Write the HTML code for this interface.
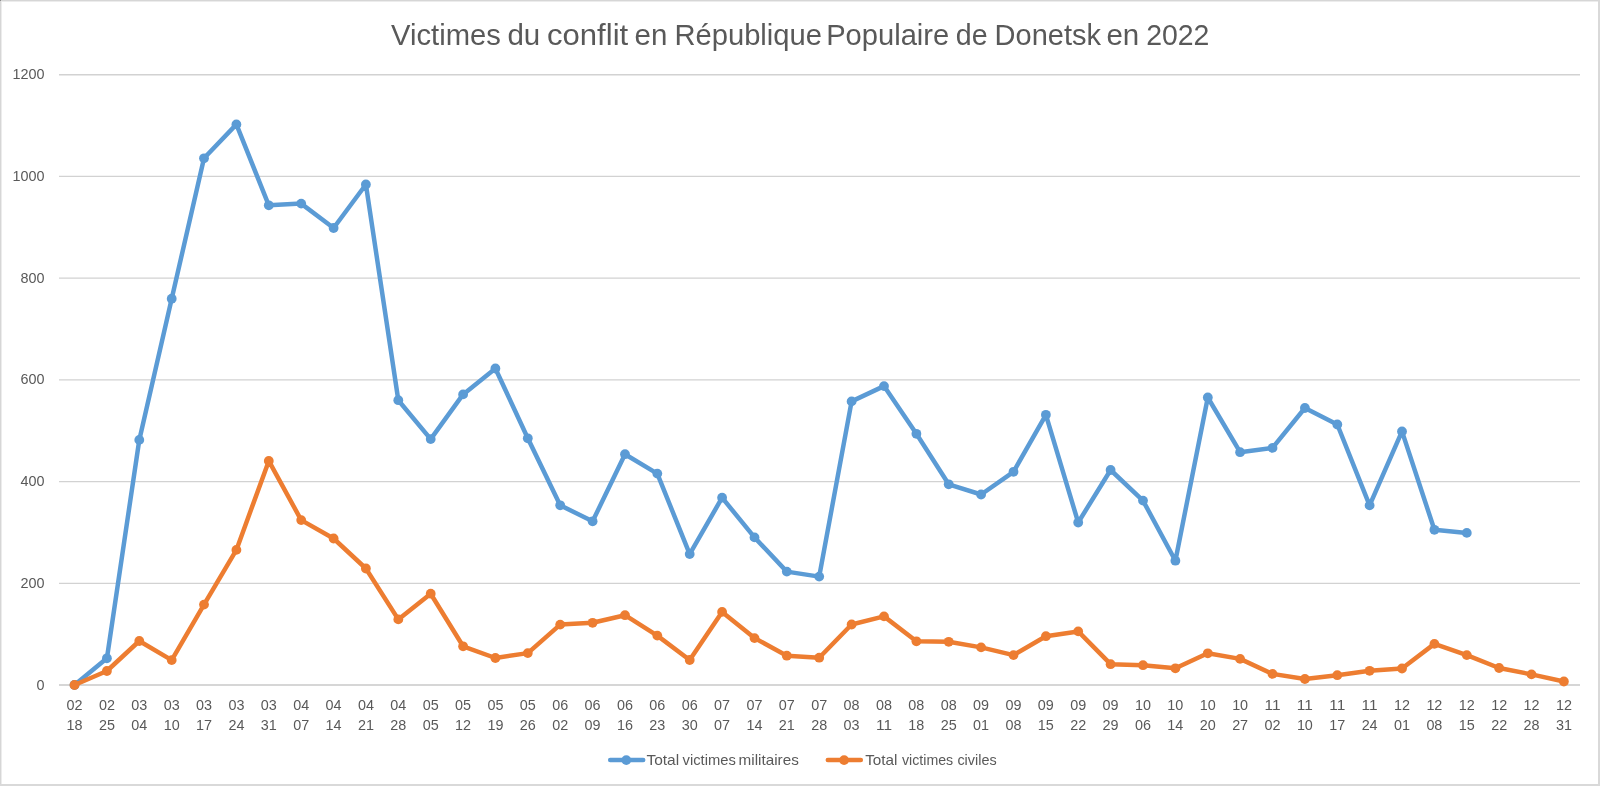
<!DOCTYPE html>
<html><head><meta charset="utf-8"><title>Chart</title>
<style>
html,body{margin:0;padding:0;background:#fff;}
body{width:1600px;height:786px;overflow:hidden;position:relative;font-family:"Liberation Sans",sans-serif;}
.b{position:absolute;}
svg{position:absolute;left:0;top:0;will-change:transform;}
text{font-family:"Liberation Sans",sans-serif;fill:#595959;}
.ax{font-size:15px;}
.title{font-size:28.8px;}
</style></head><body>
<svg width="1600" height="786" viewBox="0 0 1600 786">
<line x1="59.0" y1="74.70" x2="1580.0" y2="74.70" stroke="#d2d2d2" stroke-width="1.35"/>
<line x1="59.0" y1="176.42" x2="1580.0" y2="176.42" stroke="#d2d2d2" stroke-width="1.35"/>
<line x1="59.0" y1="278.14" x2="1580.0" y2="278.14" stroke="#d2d2d2" stroke-width="1.35"/>
<line x1="59.0" y1="379.86" x2="1580.0" y2="379.86" stroke="#d2d2d2" stroke-width="1.35"/>
<line x1="59.0" y1="481.58" x2="1580.0" y2="481.58" stroke="#d2d2d2" stroke-width="1.35"/>
<line x1="59.0" y1="583.30" x2="1580.0" y2="583.30" stroke="#d2d2d2" stroke-width="1.35"/>
<rect x="59.0" y="684" width="1521.0" height="2" fill="#d6d6d6"/>
<polyline points="74.5,685.0 106.9,658.3 139.3,439.9 171.7,298.7 204.0,158.3 236.4,124.4 268.8,205.3 301.2,203.6 333.6,228.0 365.9,184.5 398.3,400.2 430.7,439.1 463.1,394.4 495.4,368.5 527.8,438.3 560.2,505.3 592.6,521.3 625.0,454.2 657.3,473.6 689.7,554.1 722.1,497.7 754.5,537.4 786.8,571.6 819.2,576.6 851.6,401.4 884.0,386.1 916.4,433.8 948.7,484.3 981.1,494.5 1013.5,471.8 1045.9,414.8 1078.2,522.5 1110.6,470.0 1143.0,500.6 1175.4,560.7 1207.8,397.5 1240.1,452.2 1272.5,447.9 1304.9,408.0 1337.3,424.5 1369.6,505.4 1402.0,431.4 1434.4,529.8 1466.8,532.9" fill="none" stroke="#5b9bd5" stroke-width="4.5" stroke-linejoin="round" stroke-linecap="round"/>
<circle cx="74.5" cy="685.0" r="4.9" fill="#5b9bd5"/><circle cx="106.9" cy="658.3" r="4.9" fill="#5b9bd5"/><circle cx="139.3" cy="439.9" r="4.9" fill="#5b9bd5"/><circle cx="171.7" cy="298.7" r="4.9" fill="#5b9bd5"/><circle cx="204.0" cy="158.3" r="4.9" fill="#5b9bd5"/><circle cx="236.4" cy="124.4" r="4.9" fill="#5b9bd5"/><circle cx="268.8" cy="205.3" r="4.9" fill="#5b9bd5"/><circle cx="301.2" cy="203.6" r="4.9" fill="#5b9bd5"/><circle cx="333.6" cy="228.0" r="4.9" fill="#5b9bd5"/><circle cx="365.9" cy="184.5" r="4.9" fill="#5b9bd5"/><circle cx="398.3" cy="400.2" r="4.9" fill="#5b9bd5"/><circle cx="430.7" cy="439.1" r="4.9" fill="#5b9bd5"/><circle cx="463.1" cy="394.4" r="4.9" fill="#5b9bd5"/><circle cx="495.4" cy="368.5" r="4.9" fill="#5b9bd5"/><circle cx="527.8" cy="438.3" r="4.9" fill="#5b9bd5"/><circle cx="560.2" cy="505.3" r="4.9" fill="#5b9bd5"/><circle cx="592.6" cy="521.3" r="4.9" fill="#5b9bd5"/><circle cx="625.0" cy="454.2" r="4.9" fill="#5b9bd5"/><circle cx="657.3" cy="473.6" r="4.9" fill="#5b9bd5"/><circle cx="689.7" cy="554.1" r="4.9" fill="#5b9bd5"/><circle cx="722.1" cy="497.7" r="4.9" fill="#5b9bd5"/><circle cx="754.5" cy="537.4" r="4.9" fill="#5b9bd5"/><circle cx="786.8" cy="571.6" r="4.9" fill="#5b9bd5"/><circle cx="819.2" cy="576.6" r="4.9" fill="#5b9bd5"/><circle cx="851.6" cy="401.4" r="4.9" fill="#5b9bd5"/><circle cx="884.0" cy="386.1" r="4.9" fill="#5b9bd5"/><circle cx="916.4" cy="433.8" r="4.9" fill="#5b9bd5"/><circle cx="948.7" cy="484.3" r="4.9" fill="#5b9bd5"/><circle cx="981.1" cy="494.5" r="4.9" fill="#5b9bd5"/><circle cx="1013.5" cy="471.8" r="4.9" fill="#5b9bd5"/><circle cx="1045.9" cy="414.8" r="4.9" fill="#5b9bd5"/><circle cx="1078.2" cy="522.5" r="4.9" fill="#5b9bd5"/><circle cx="1110.6" cy="470.0" r="4.9" fill="#5b9bd5"/><circle cx="1143.0" cy="500.6" r="4.9" fill="#5b9bd5"/><circle cx="1175.4" cy="560.7" r="4.9" fill="#5b9bd5"/><circle cx="1207.8" cy="397.5" r="4.9" fill="#5b9bd5"/><circle cx="1240.1" cy="452.2" r="4.9" fill="#5b9bd5"/><circle cx="1272.5" cy="447.9" r="4.9" fill="#5b9bd5"/><circle cx="1304.9" cy="408.0" r="4.9" fill="#5b9bd5"/><circle cx="1337.3" cy="424.5" r="4.9" fill="#5b9bd5"/><circle cx="1369.6" cy="505.4" r="4.9" fill="#5b9bd5"/><circle cx="1402.0" cy="431.4" r="4.9" fill="#5b9bd5"/><circle cx="1434.4" cy="529.8" r="4.9" fill="#5b9bd5"/><circle cx="1466.8" cy="532.9" r="4.9" fill="#5b9bd5"/>
<polyline points="74.5,685.0 106.9,671.0 139.3,641.0 171.7,660.1 204.0,604.6 236.4,549.9 268.8,460.9 301.2,520.1 333.6,538.5 365.9,568.5 398.3,619.4 430.7,593.7 463.1,646.3 495.4,658.0 527.8,653.1 560.2,624.6 592.6,622.8 625.0,615.2 657.3,635.6 689.7,660.0 722.1,611.9 754.5,638.1 786.8,655.7 819.2,657.7 851.6,624.5 884.0,616.4 916.4,641.3 948.7,641.8 981.1,647.4 1013.5,655.1 1045.9,636.2 1078.2,631.4 1110.6,664.2 1143.0,665.2 1175.4,668.3 1207.8,653.3 1240.1,658.9 1272.5,673.9 1304.9,679.0 1337.3,675.2 1369.6,670.8 1402.0,668.5 1434.4,643.9 1466.8,655.1 1499.1,668.0 1531.5,674.4 1563.9,681.5" fill="none" stroke="#ed7d31" stroke-width="4.5" stroke-linejoin="round" stroke-linecap="round"/>
<circle cx="74.5" cy="685.0" r="4.9" fill="#ed7d31"/><circle cx="106.9" cy="671.0" r="4.9" fill="#ed7d31"/><circle cx="139.3" cy="641.0" r="4.9" fill="#ed7d31"/><circle cx="171.7" cy="660.1" r="4.9" fill="#ed7d31"/><circle cx="204.0" cy="604.6" r="4.9" fill="#ed7d31"/><circle cx="236.4" cy="549.9" r="4.9" fill="#ed7d31"/><circle cx="268.8" cy="460.9" r="4.9" fill="#ed7d31"/><circle cx="301.2" cy="520.1" r="4.9" fill="#ed7d31"/><circle cx="333.6" cy="538.5" r="4.9" fill="#ed7d31"/><circle cx="365.9" cy="568.5" r="4.9" fill="#ed7d31"/><circle cx="398.3" cy="619.4" r="4.9" fill="#ed7d31"/><circle cx="430.7" cy="593.7" r="4.9" fill="#ed7d31"/><circle cx="463.1" cy="646.3" r="4.9" fill="#ed7d31"/><circle cx="495.4" cy="658.0" r="4.9" fill="#ed7d31"/><circle cx="527.8" cy="653.1" r="4.9" fill="#ed7d31"/><circle cx="560.2" cy="624.6" r="4.9" fill="#ed7d31"/><circle cx="592.6" cy="622.8" r="4.9" fill="#ed7d31"/><circle cx="625.0" cy="615.2" r="4.9" fill="#ed7d31"/><circle cx="657.3" cy="635.6" r="4.9" fill="#ed7d31"/><circle cx="689.7" cy="660.0" r="4.9" fill="#ed7d31"/><circle cx="722.1" cy="611.9" r="4.9" fill="#ed7d31"/><circle cx="754.5" cy="638.1" r="4.9" fill="#ed7d31"/><circle cx="786.8" cy="655.7" r="4.9" fill="#ed7d31"/><circle cx="819.2" cy="657.7" r="4.9" fill="#ed7d31"/><circle cx="851.6" cy="624.5" r="4.9" fill="#ed7d31"/><circle cx="884.0" cy="616.4" r="4.9" fill="#ed7d31"/><circle cx="916.4" cy="641.3" r="4.9" fill="#ed7d31"/><circle cx="948.7" cy="641.8" r="4.9" fill="#ed7d31"/><circle cx="981.1" cy="647.4" r="4.9" fill="#ed7d31"/><circle cx="1013.5" cy="655.1" r="4.9" fill="#ed7d31"/><circle cx="1045.9" cy="636.2" r="4.9" fill="#ed7d31"/><circle cx="1078.2" cy="631.4" r="4.9" fill="#ed7d31"/><circle cx="1110.6" cy="664.2" r="4.9" fill="#ed7d31"/><circle cx="1143.0" cy="665.2" r="4.9" fill="#ed7d31"/><circle cx="1175.4" cy="668.3" r="4.9" fill="#ed7d31"/><circle cx="1207.8" cy="653.3" r="4.9" fill="#ed7d31"/><circle cx="1240.1" cy="658.9" r="4.9" fill="#ed7d31"/><circle cx="1272.5" cy="673.9" r="4.9" fill="#ed7d31"/><circle cx="1304.9" cy="679.0" r="4.9" fill="#ed7d31"/><circle cx="1337.3" cy="675.2" r="4.9" fill="#ed7d31"/><circle cx="1369.6" cy="670.8" r="4.9" fill="#ed7d31"/><circle cx="1402.0" cy="668.5" r="4.9" fill="#ed7d31"/><circle cx="1434.4" cy="643.9" r="4.9" fill="#ed7d31"/><circle cx="1466.8" cy="655.1" r="4.9" fill="#ed7d31"/><circle cx="1499.1" cy="668.0" r="4.9" fill="#ed7d31"/><circle cx="1531.5" cy="674.4" r="4.9" fill="#ed7d31"/><circle cx="1563.9" cy="681.5" r="4.9" fill="#ed7d31"/>
<text x="12.60" y="79.20" class="ax" textLength="32.00" lengthAdjust="spacingAndGlyphs">1200</text>
<text x="12.60" y="180.92" class="ax" textLength="32.00" lengthAdjust="spacingAndGlyphs">1000</text>
<text x="20.60" y="282.64" class="ax" textLength="24.00" lengthAdjust="spacingAndGlyphs">800</text>
<text x="20.60" y="384.36" class="ax" textLength="24.00" lengthAdjust="spacingAndGlyphs">600</text>
<text x="20.60" y="486.08" class="ax" textLength="24.00" lengthAdjust="spacingAndGlyphs">400</text>
<text x="20.60" y="587.80" class="ax" textLength="24.00" lengthAdjust="spacingAndGlyphs">200</text>
<text x="36.60" y="689.52" class="ax" textLength="8.00" lengthAdjust="spacingAndGlyphs">0</text>
<text x="66.53" y="710.1" class="ax" textLength="16.00" lengthAdjust="spacingAndGlyphs">02</text><text x="66.53" y="730.2" class="ax" textLength="16.00" lengthAdjust="spacingAndGlyphs">18</text>
<text x="98.91" y="710.1" class="ax" textLength="16.00" lengthAdjust="spacingAndGlyphs">02</text><text x="98.91" y="730.2" class="ax" textLength="16.00" lengthAdjust="spacingAndGlyphs">25</text>
<text x="131.29" y="710.1" class="ax" textLength="16.00" lengthAdjust="spacingAndGlyphs">03</text><text x="131.29" y="730.2" class="ax" textLength="16.00" lengthAdjust="spacingAndGlyphs">04</text>
<text x="163.67" y="710.1" class="ax" textLength="16.00" lengthAdjust="spacingAndGlyphs">03</text><text x="163.67" y="730.2" class="ax" textLength="16.00" lengthAdjust="spacingAndGlyphs">10</text>
<text x="196.05" y="710.1" class="ax" textLength="16.00" lengthAdjust="spacingAndGlyphs">03</text><text x="196.05" y="730.2" class="ax" textLength="16.00" lengthAdjust="spacingAndGlyphs">17</text>
<text x="228.42" y="710.1" class="ax" textLength="16.00" lengthAdjust="spacingAndGlyphs">03</text><text x="228.42" y="730.2" class="ax" textLength="16.00" lengthAdjust="spacingAndGlyphs">24</text>
<text x="260.80" y="710.1" class="ax" textLength="16.00" lengthAdjust="spacingAndGlyphs">03</text><text x="260.80" y="730.2" class="ax" textLength="16.00" lengthAdjust="spacingAndGlyphs">31</text>
<text x="293.18" y="710.1" class="ax" textLength="16.00" lengthAdjust="spacingAndGlyphs">04</text><text x="293.18" y="730.2" class="ax" textLength="16.00" lengthAdjust="spacingAndGlyphs">07</text>
<text x="325.56" y="710.1" class="ax" textLength="16.00" lengthAdjust="spacingAndGlyphs">04</text><text x="325.56" y="730.2" class="ax" textLength="16.00" lengthAdjust="spacingAndGlyphs">14</text>
<text x="357.93" y="710.1" class="ax" textLength="16.00" lengthAdjust="spacingAndGlyphs">04</text><text x="357.93" y="730.2" class="ax" textLength="16.00" lengthAdjust="spacingAndGlyphs">21</text>
<text x="390.31" y="710.1" class="ax" textLength="16.00" lengthAdjust="spacingAndGlyphs">04</text><text x="390.31" y="730.2" class="ax" textLength="16.00" lengthAdjust="spacingAndGlyphs">28</text>
<text x="422.69" y="710.1" class="ax" textLength="16.00" lengthAdjust="spacingAndGlyphs">05</text><text x="422.69" y="730.2" class="ax" textLength="16.00" lengthAdjust="spacingAndGlyphs">05</text>
<text x="455.07" y="710.1" class="ax" textLength="16.00" lengthAdjust="spacingAndGlyphs">05</text><text x="455.07" y="730.2" class="ax" textLength="16.00" lengthAdjust="spacingAndGlyphs">12</text>
<text x="487.44" y="710.1" class="ax" textLength="16.00" lengthAdjust="spacingAndGlyphs">05</text><text x="487.44" y="730.2" class="ax" textLength="16.00" lengthAdjust="spacingAndGlyphs">19</text>
<text x="519.82" y="710.1" class="ax" textLength="16.00" lengthAdjust="spacingAndGlyphs">05</text><text x="519.82" y="730.2" class="ax" textLength="16.00" lengthAdjust="spacingAndGlyphs">26</text>
<text x="552.20" y="710.1" class="ax" textLength="16.00" lengthAdjust="spacingAndGlyphs">06</text><text x="552.20" y="730.2" class="ax" textLength="16.00" lengthAdjust="spacingAndGlyphs">02</text>
<text x="584.58" y="710.1" class="ax" textLength="16.00" lengthAdjust="spacingAndGlyphs">06</text><text x="584.58" y="730.2" class="ax" textLength="16.00" lengthAdjust="spacingAndGlyphs">09</text>
<text x="616.95" y="710.1" class="ax" textLength="16.00" lengthAdjust="spacingAndGlyphs">06</text><text x="616.95" y="730.2" class="ax" textLength="16.00" lengthAdjust="spacingAndGlyphs">16</text>
<text x="649.33" y="710.1" class="ax" textLength="16.00" lengthAdjust="spacingAndGlyphs">06</text><text x="649.33" y="730.2" class="ax" textLength="16.00" lengthAdjust="spacingAndGlyphs">23</text>
<text x="681.71" y="710.1" class="ax" textLength="16.00" lengthAdjust="spacingAndGlyphs">06</text><text x="681.71" y="730.2" class="ax" textLength="16.00" lengthAdjust="spacingAndGlyphs">30</text>
<text x="714.09" y="710.1" class="ax" textLength="16.00" lengthAdjust="spacingAndGlyphs">07</text><text x="714.09" y="730.2" class="ax" textLength="16.00" lengthAdjust="spacingAndGlyphs">07</text>
<text x="746.46" y="710.1" class="ax" textLength="16.00" lengthAdjust="spacingAndGlyphs">07</text><text x="746.46" y="730.2" class="ax" textLength="16.00" lengthAdjust="spacingAndGlyphs">14</text>
<text x="778.84" y="710.1" class="ax" textLength="16.00" lengthAdjust="spacingAndGlyphs">07</text><text x="778.84" y="730.2" class="ax" textLength="16.00" lengthAdjust="spacingAndGlyphs">21</text>
<text x="811.22" y="710.1" class="ax" textLength="16.00" lengthAdjust="spacingAndGlyphs">07</text><text x="811.22" y="730.2" class="ax" textLength="16.00" lengthAdjust="spacingAndGlyphs">28</text>
<text x="843.60" y="710.1" class="ax" textLength="16.00" lengthAdjust="spacingAndGlyphs">08</text><text x="843.60" y="730.2" class="ax" textLength="16.00" lengthAdjust="spacingAndGlyphs">03</text>
<text x="875.97" y="710.1" class="ax" textLength="16.00" lengthAdjust="spacingAndGlyphs">08</text><text x="875.97" y="730.2" class="ax" textLength="16.00" lengthAdjust="spacingAndGlyphs">11</text>
<text x="908.35" y="710.1" class="ax" textLength="16.00" lengthAdjust="spacingAndGlyphs">08</text><text x="908.35" y="730.2" class="ax" textLength="16.00" lengthAdjust="spacingAndGlyphs">18</text>
<text x="940.73" y="710.1" class="ax" textLength="16.00" lengthAdjust="spacingAndGlyphs">08</text><text x="940.73" y="730.2" class="ax" textLength="16.00" lengthAdjust="spacingAndGlyphs">25</text>
<text x="973.11" y="710.1" class="ax" textLength="16.00" lengthAdjust="spacingAndGlyphs">09</text><text x="973.11" y="730.2" class="ax" textLength="16.00" lengthAdjust="spacingAndGlyphs">01</text>
<text x="1005.48" y="710.1" class="ax" textLength="16.00" lengthAdjust="spacingAndGlyphs">09</text><text x="1005.48" y="730.2" class="ax" textLength="16.00" lengthAdjust="spacingAndGlyphs">08</text>
<text x="1037.86" y="710.1" class="ax" textLength="16.00" lengthAdjust="spacingAndGlyphs">09</text><text x="1037.86" y="730.2" class="ax" textLength="16.00" lengthAdjust="spacingAndGlyphs">15</text>
<text x="1070.24" y="710.1" class="ax" textLength="16.00" lengthAdjust="spacingAndGlyphs">09</text><text x="1070.24" y="730.2" class="ax" textLength="16.00" lengthAdjust="spacingAndGlyphs">22</text>
<text x="1102.62" y="710.1" class="ax" textLength="16.00" lengthAdjust="spacingAndGlyphs">09</text><text x="1102.62" y="730.2" class="ax" textLength="16.00" lengthAdjust="spacingAndGlyphs">29</text>
<text x="1134.99" y="710.1" class="ax" textLength="16.00" lengthAdjust="spacingAndGlyphs">10</text><text x="1134.99" y="730.2" class="ax" textLength="16.00" lengthAdjust="spacingAndGlyphs">06</text>
<text x="1167.37" y="710.1" class="ax" textLength="16.00" lengthAdjust="spacingAndGlyphs">10</text><text x="1167.37" y="730.2" class="ax" textLength="16.00" lengthAdjust="spacingAndGlyphs">14</text>
<text x="1199.75" y="710.1" class="ax" textLength="16.00" lengthAdjust="spacingAndGlyphs">10</text><text x="1199.75" y="730.2" class="ax" textLength="16.00" lengthAdjust="spacingAndGlyphs">20</text>
<text x="1232.13" y="710.1" class="ax" textLength="16.00" lengthAdjust="spacingAndGlyphs">10</text><text x="1232.13" y="730.2" class="ax" textLength="16.00" lengthAdjust="spacingAndGlyphs">27</text>
<text x="1264.51" y="710.1" class="ax" textLength="16.00" lengthAdjust="spacingAndGlyphs">11</text><text x="1264.51" y="730.2" class="ax" textLength="16.00" lengthAdjust="spacingAndGlyphs">02</text>
<text x="1296.88" y="710.1" class="ax" textLength="16.00" lengthAdjust="spacingAndGlyphs">11</text><text x="1296.88" y="730.2" class="ax" textLength="16.00" lengthAdjust="spacingAndGlyphs">10</text>
<text x="1329.26" y="710.1" class="ax" textLength="16.00" lengthAdjust="spacingAndGlyphs">11</text><text x="1329.26" y="730.2" class="ax" textLength="16.00" lengthAdjust="spacingAndGlyphs">17</text>
<text x="1361.64" y="710.1" class="ax" textLength="16.00" lengthAdjust="spacingAndGlyphs">11</text><text x="1361.64" y="730.2" class="ax" textLength="16.00" lengthAdjust="spacingAndGlyphs">24</text>
<text x="1394.02" y="710.1" class="ax" textLength="16.00" lengthAdjust="spacingAndGlyphs">12</text><text x="1394.02" y="730.2" class="ax" textLength="16.00" lengthAdjust="spacingAndGlyphs">01</text>
<text x="1426.39" y="710.1" class="ax" textLength="16.00" lengthAdjust="spacingAndGlyphs">12</text><text x="1426.39" y="730.2" class="ax" textLength="16.00" lengthAdjust="spacingAndGlyphs">08</text>
<text x="1458.77" y="710.1" class="ax" textLength="16.00" lengthAdjust="spacingAndGlyphs">12</text><text x="1458.77" y="730.2" class="ax" textLength="16.00" lengthAdjust="spacingAndGlyphs">15</text>
<text x="1491.15" y="710.1" class="ax" textLength="16.00" lengthAdjust="spacingAndGlyphs">12</text><text x="1491.15" y="730.2" class="ax" textLength="16.00" lengthAdjust="spacingAndGlyphs">22</text>
<text x="1523.53" y="710.1" class="ax" textLength="16.00" lengthAdjust="spacingAndGlyphs">12</text><text x="1523.53" y="730.2" class="ax" textLength="16.00" lengthAdjust="spacingAndGlyphs">28</text>
<text x="1555.90" y="710.1" class="ax" textLength="16.00" lengthAdjust="spacingAndGlyphs">12</text><text x="1555.90" y="730.2" class="ax" textLength="16.00" lengthAdjust="spacingAndGlyphs">31</text>
<text x="391.0" y="44.7" class="title" textLength="109.8" lengthAdjust="spacingAndGlyphs">Victimes</text>
<text x="507.4" y="44.7" class="title" textLength="32.8" lengthAdjust="spacingAndGlyphs">du</text>
<text x="547.0" y="44.7" class="title" textLength="81.2" lengthAdjust="spacingAndGlyphs">conflit</text>
<text x="634.6" y="44.7" class="title" textLength="32.8" lengthAdjust="spacingAndGlyphs">en</text>
<text x="674.4" y="44.7" class="title" textLength="147.6" lengthAdjust="spacingAndGlyphs">République</text>
<text x="826.2" y="44.7" class="title" textLength="123.0" lengthAdjust="spacingAndGlyphs">Populaire</text>
<text x="955.8" y="44.7" class="title" textLength="31.8" lengthAdjust="spacingAndGlyphs">de</text>
<text x="994.6" y="44.7" class="title" textLength="106.4" lengthAdjust="spacingAndGlyphs">Donetsk</text>
<text x="1106.4" y="44.7" class="title" textLength="32.8" lengthAdjust="spacingAndGlyphs">en</text>
<text x="1146.2" y="44.7" class="title" textLength="63.2" lengthAdjust="spacingAndGlyphs">2022</text>
<line x1="610.2" y1="760.1" x2="643.2" y2="760.1" stroke="#5b9bd5" stroke-width="4.5" stroke-linecap="round"/><circle cx="626.3" cy="760.1" r="4.9" fill="#5b9bd5"/>
<text x="646.4" y="765.0" class="ax" textLength="32.70" lengthAdjust="spacingAndGlyphs">Total</text>
<text x="682.6" y="765.0" class="ax" textLength="53.20" lengthAdjust="spacingAndGlyphs">victimes</text>
<text x="738.6" y="765.0" class="ax" textLength="60.20" lengthAdjust="spacingAndGlyphs">militaires</text>
<text x="865.2" y="765.0" class="ax" textLength="32.20" lengthAdjust="spacingAndGlyphs">Total</text>
<text x="902.0" y="765.0" class="ax" textLength="51.20" lengthAdjust="spacingAndGlyphs">victimes</text>
<text x="957.4" y="765.0" class="ax" textLength="39.20" lengthAdjust="spacingAndGlyphs">civiles</text>
<line x1="827.8" y1="760.1" x2="860.8" y2="760.1" stroke="#ed7d31" stroke-width="4.5" stroke-linecap="round"/><circle cx="844.1" cy="760.1" r="4.9" fill="#ed7d31"/>
</svg>
<div class="b" style="left:0;top:0;width:1600px;height:1px;background:#d6d6d6"></div>
<div class="b" style="left:1px;top:1px;width:1598px;height:1px;background:#ececec"></div>
<div class="b" style="left:0;top:0;width:1px;height:786px;background:#d6d6d6"></div>
<div class="b" style="left:1px;top:1px;width:1px;height:784px;background:#ececec"></div>
<div class="b" style="left:0;top:784px;width:1600px;height:2px;background:#d9d9d9"></div>
<div class="b" style="left:1598px;top:0;width:2px;height:786px;background:#d9d9d9"></div>
<div class="b" style="left:0;top:0;width:1px;height:1px;background:#8c8c8c"></div>
</body></html>
